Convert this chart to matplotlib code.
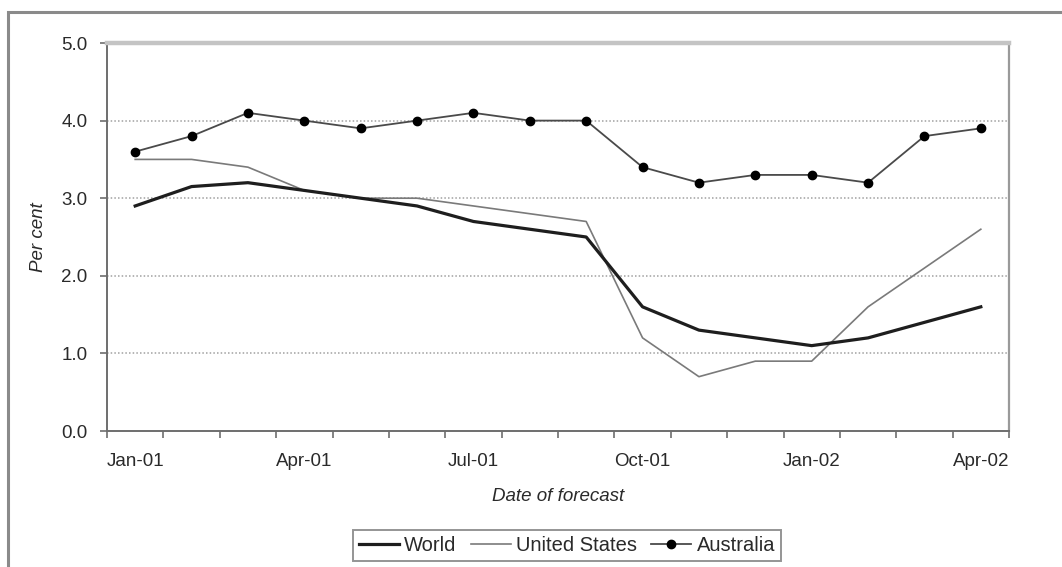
import numpy as np
import matplotlib
matplotlib.use("Agg")
import matplotlib.pyplot as plt
from matplotlib.lines import Line2D

plt.rcParams['font.family'] = ['Liberation Sans', 'DejaVu Sans']

months = ["Jan-01", "Feb-01", "Mar-01", "Apr-01", "May-01", "Jun-01", "Jul-01", "Aug-01",
          "Sep-01", "Oct-01", "Nov-01", "Dec-01", "Jan-02", "Feb-02", "Mar-02", "Apr-02"]
world = [2.9, 3.15, 3.2, 3.1, 3.0, 2.9, 2.7, 2.6, 2.5, 1.6, 1.3, 1.2, 1.1, 1.2, 1.4, 1.6]
united_states = [3.5, 3.5, 3.4, 3.1, 3.0, 3.0, 2.9, 2.8, 2.7, 1.2, 0.7, 0.9, 0.9, 1.6, 2.1, 2.6]
australia = [3.6, 3.8, 4.1, 4.0, 3.9, 4.0, 4.1, 4.0, 4.0, 3.4, 3.2, 3.3, 3.3, 3.2, 3.8, 3.9]
y_ticks = [0.0, 1.0, 2.0, 3.0, 4.0, 5.0]

W, H = 1062, 567
FS = 13.5
TXT = "#2a2a2a"
fig = plt.figure(figsize=(W / 100, H / 100), dpi=100)
fig.patch.set_facecolor("white")

# outer frame (top and left edges)
frame_col = "#8a8a8a"
fig.add_artist(Line2D([8 / W, 8 / W, 1.0], [0.0, 1 - 12 / H, 1 - 12 / H],
                      transform=fig.transFigure, color=frame_col, lw=2.2,
                      solid_joinstyle="miter"))

ax = fig.add_axes([107 / W, 1 - 431 / H, (1009 - 107) / W, (431 - 43) / H])
x = np.arange(len(months))

ax.set_xlim(-0.5, len(months) - 0.5)
ax.set_ylim(0, 5)

# dotted horizontal gridlines
for v in y_ticks[1:-1]:
    ax.axhline(v, color="#a0a0a0", lw=1.1, ls=(0, (1, 1.4)), zorder=1)

ax.plot(x, united_states, color="#7a7a7a", lw=1.2, zorder=3)
ax.plot(x, world, color="#1e1e1e", lw=2.3, zorder=4)
ax.plot(x, australia, color="#4a4a4a", lw=1.3, marker="o", ms=6,
        mfc="black", mec="black", zorder=5)

# spines
for side in ("left", "bottom"):
    ax.spines[side].set_color("#6e6e6e")
    ax.spines[side].set_linewidth(1.4)
ax.spines["right"].set_color("#9a9a9a")
ax.spines["right"].set_linewidth(1.6)
ax.spines["top"].set_color("#c4c4c4")
ax.spines["top"].set_linewidth(3.2)

# y axis
ax.set_yticks(y_ticks)
ax.set_yticklabels([f"{v:.1f}" for v in y_ticks])
ax.tick_params(axis="y", direction="out", length=5, width=1.2, color="#6e6e6e",
               labelsize=FS, labelcolor=TXT, pad=9)

# x axis: category ticks between months, labels each quarter
ax.set_xticks(np.arange(-0.5, len(months), 1.0), minor=True)
ax.set_xticks(x[::3])
ax.set_xticklabels(months[::3])
ax.tick_params(axis="x", which="major", length=0, labelsize=FS,
               labelcolor=TXT, pad=16)
ax.tick_params(axis="x", which="minor", direction="out", length=5, width=1.2,
               color="#6e6e6e")

ax.set_ylabel("Per cent", fontsize=FS, fontstyle="italic", color=TXT, labelpad=10)
ax.set_xlabel("Date of forecast", fontsize=FS, fontstyle="italic", color=TXT,
              labelpad=13)

handles = [
    Line2D([], [], color="#1e1e1e", lw=2.3),
    Line2D([], [], color="#7a7a7a", lw=1.2),
    Line2D([], [], color="#4a4a4a", lw=1.3, marker="o", ms=6, mfc="black", mec="black"),
]
leg = fig.legend(handles, ["World", "United States", "Australia"], ncol=3,
                 loc="upper center", bbox_to_anchor=(567 / W, 1 - 530 / H),
                 frameon=True, fancybox=False, fontsize=14.5, handlelength=2.0,
                 handletextpad=0.25, columnspacing=0.7, borderpad=0.3,
                 borderaxespad=0)
leg.get_frame().set_edgecolor("#7a7a7a")
leg.get_frame().set_linewidth(1.4)
for t in leg.get_texts():
    t.set_color(TXT)

fig.savefig("out.png", dpi=100, facecolor="white")
